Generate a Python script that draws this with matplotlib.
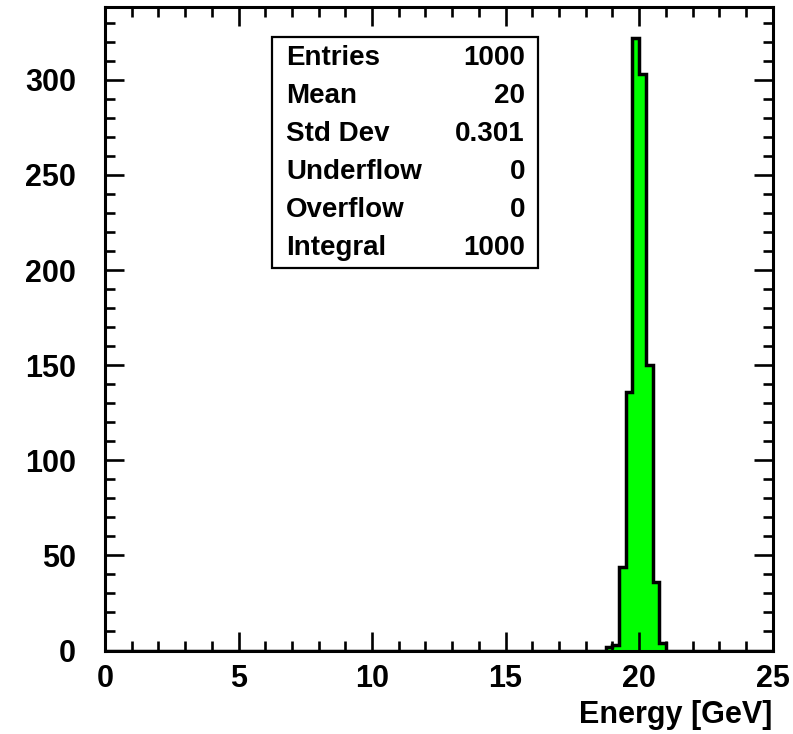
import numpy as np
import matplotlib
matplotlib.use('Agg')
import matplotlib.pyplot as plt
from matplotlib.patches import Rectangle
from matplotlib.ticker import MultipleLocator

plt.rcParams['font.family'] = ['Liberation Sans', 'DejaVu Sans']
plt.rcParams['font.weight'] = 'bold'

# histogram: 100 bins over 0-25 GeV, only the peak region is filled
x_min, x_max, n_bins = 0.0, 25.0, 100
peak_first_bin = 75          # bin starting at 18.75 GeV
peak_counts = [2, 3, 44, 136, 322, 303, 150, 36, 4]

stat_names = ['Entries', 'Mean', 'Std Dev', 'Underflow', 'Overflow', 'Integral']
stat_values = ['1000', '20', '0.301', '0', '0', '1000']

edges = np.linspace(x_min, x_max, n_bins + 1)
counts = np.zeros(n_bins)
counts[peak_first_bin:peak_first_bin + len(peak_counts)] = peak_counts

W, H = 793, 734
fig = plt.figure(figsize=(W / 100, H / 100), dpi=100)
ax = fig.add_axes([105 / W, 1 - 650.5 / H, 667.7 / W, 643.2 / H])

ax.stairs(counts, edges, fill=True, color='#00ff00', zorder=1)
ax.stairs(counts, edges, color='black', lw=2.5, zorder=2)

ax.set_xlim(x_min, x_max)
ax.set_ylim(0, 1.05 * counts.max())

ax.xaxis.set_major_locator(MultipleLocator(5))
ax.xaxis.set_minor_locator(MultipleLocator(1))
ax.yaxis.set_major_locator(MultipleLocator(50))
ax.yaxis.set_minor_locator(MultipleLocator(10))
ax.tick_params(which='both', direction='in', top=True, right=True, width=1.9,
               labelsize=22)
ax.tick_params(which='major', length=14)
ax.tick_params(which='minor', length=7)
ax.tick_params(axis='y', pad=21)
ax.tick_params(axis='x', pad=10)
for lab in ax.get_xticklabels() + ax.get_yticklabels():
    lab.set_fontweight('bold')
for sp in ax.spines.values():
    sp.set_linewidth(2.2)

ax.set_xlabel('Energy [GeV]', fontsize=22, fontweight='bold', loc='right')

# stats box
box_l, box_r, box_t, box_b = 271.7, 538, 36.7, 268
fig.patches.append(Rectangle((box_l / W, 1 - box_b / H), (box_r - box_l) / W,
                             (box_b - box_t) / H, transform=fig.transFigure,
                             facecolor='white', edgecolor='black', lw=1.6,
                             zorder=5))
row_y = np.linspace(58, 248, len(stat_names))
for name, val, y in zip(stat_names, stat_values, row_y):
    fig.text(286 / W, 1 - y / H, name, fontsize=20, fontweight='bold',
             ha='left', va='center', zorder=6)
    fig.text(525 / W, 1 - y / H, val, fontsize=20, fontweight='bold',
             ha='right', va='center', zorder=6)

fig.savefig('out.png', dpi=100)
